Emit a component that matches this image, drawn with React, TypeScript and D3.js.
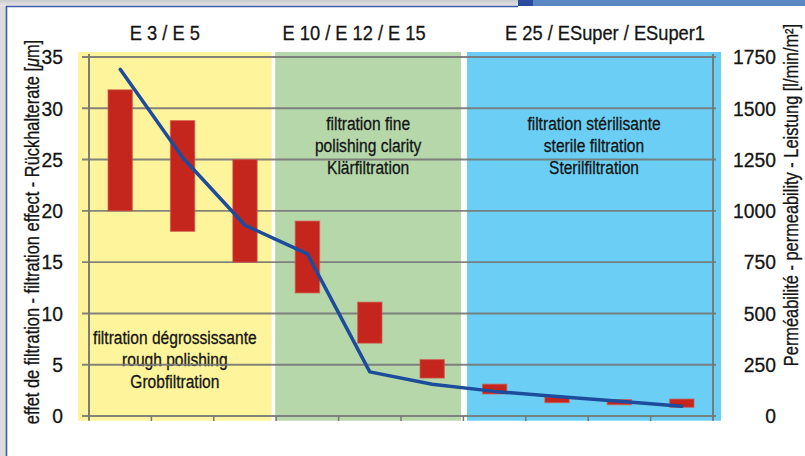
import React from "react";
import * as d3 from "d3";

// ---- data ----
const categories = ["P1", "P2", "P3", "P4", "P5", "P6", "P7", "P8", "P9", "P10"];
const retentionLow = [20, 18, 15, 12, 7.1, 3.7, 2.15, 1.3, 1.1, 0.85];
const retentionHigh = [31.8, 28.8, 25, 19, 11.1, 5.5, 3.1, 1.85, 1.6, 1.65];
const permeability = [1690, 1260, 930, 790, 215, 155, 120, 95, 72, 48];
const groupLabels = ["E 3 / E 5", "E 10 / E 12 / E 15", "E 25 / ESuper / ESuper1"];
const groupSizes = [3, 3, 4];
const groupTexts = [
  ["filtration dégrossissante", "rough polishing", "Grobfiltration"],
  ["filtration fine", "polishing clarity", "Klärfiltration"],
  ["filtration stérilisante", "sterile filtration", "Sterilfiltration"],
];
const leftTicks = [0, 5, 10, 15, 20, 25, 30, 35];
const rightTicks = [0, 250, 500, 750, 1000, 1250, 1500, 1750];
const leftTitle = "effet de filtration - filtration effect - Rückhalterate [";
const rightTitle = "Perméabilité - permeability - Leistung [l/min/m²]";

// ---- layout / style ----
const W = 805;
const H = 456;
const FONT = "'Liberation Sans', Arial, sans-serif";
const INK = "#141414";
const groupColors = ["#FEF49B", "#B5D7AA", "#6BCFF5"];
const groupPad = [
  { l: -11, r: -4.5 },
  { l: -1, r: -2.4 },
  { l: 3.6, r: 8 },
];
const groupLabelDx = [-10, -14, 11];
const groupTextY = [343.5, 130, 130];

function NText({
  x,
  y,
  size,
  anchor = "middle",
  rotate = 0,
  sx = 0.82,
  dy,
  children,
}: {
  x: number;
  y: number;
  size: number;
  anchor?: string;
  rotate?: number;
  sx?: number;
  dy?: string;
  children: React.ReactNode;
}) {
  return (
    <text
      transform={`translate(${x},${y}) rotate(${rotate}) scale(${sx},1)`}
      textAnchor={anchor}
      fontSize={size}
      dy={dy}
      fill={INK}
      stroke={INK}
      strokeWidth={0.3}
    >
      {children}
    </text>
  );
}

export default function App() {
  const x = d3.scaleBand<string>().domain(categories).range([89, 713]).padding(0);
  const yL = d3.scaleLinear().domain([0, 35]).range([416, 57]);
  const yR = d3.scaleLinear().domain([0, 1750]).range([416, 57]);
  const bw = x.bandwidth();
  const edge = (i: number) => (i >= categories.length ? x.range()[1] : (x(categories[i]) as number));

  const starts: number[] = [];
  let acc = 0;
  groupSizes.forEach((s) => {
    starts.push(acc);
    acc += s;
  });
  const regions = groupSizes.map((s, g) => {
    const x0 = edge(starts[g]) + groupPad[g].l;
    const x1 = edge(starts[g] + s) + groupPad[g].r;
    return { x0, x1, cx: (x0 + x1) / 2 };
  });

  const line = d3
    .line<number>()
    .x((_, i) => (x(categories[i]) as number) + bw / 2)
    .y((d) => yR(d));

  const top = yL(35) - 5;
  const bottom = yL(0) + 4.7;

  return (
    <svg
      width={W}
      height={H}
      style={{ position: "absolute", left: 0, top: 0, display: "block" }}
      fontFamily={FONT}
    >
      <defs>
        <linearGradient id="topg" x1="0" y1="0" x2="0" y2="1">
          <stop offset="0" stopColor="#c9cacc" />
          <stop offset="1" stopColor="#e6e6e8" />
        </linearGradient>
      </defs>
      <rect x={0} y={0} width={W} height={H} fill="#dcdcde" />
      <rect x={0} y={0} width={W} height={6} fill="url(#topg)" />
      <rect x={518} y={0} width={15} height={6} fill="#2b4c9c" />
      <rect x={533} y={0} width={W - 533} height={6} fill="#5a86c2" />
      <rect x={6} y={6} width={W - 6} height={H - 6} fill="#ffffff" />
      <line x1={6.5} y1={6} x2={6.5} y2={H} stroke="#3d5ca8" strokeWidth={1.6} />
      <line x1={6} y1={6.5} x2={518} y2={6.5} stroke="#3d5ca8" strokeWidth={1.4} />

      {regions.map((r, g) => (
        <rect key={g} x={r.x0} y={top} width={r.x1 - r.x0} height={bottom - top} fill={groupColors[g]} />
      ))}

      {groupTexts.map((lines, g) =>
        lines.map((t, k) => (
          <NText key={`${g}-${k}`} x={regions[g].cx} y={groupTextY[g] + k * 22} size={19}>
            {t}
          </NText>
        ))
      )}

      {leftTicks.map((v) => (
        <line key={v} x1={82} x2={716} y1={yL(v)} y2={yL(v)} stroke="#777777" strokeWidth={1.9} strokeOpacity={0.9} />
      ))}
      <line x1={89} x2={89} y1={top + 2} y2={bottom} stroke="#777777" strokeWidth={1.9} />
      <line x1={713} x2={713} y1={top + 2} y2={bottom} stroke="#777777" strokeWidth={1.9} />
      {d3.range(1, categories.length).map((i) => (
        <line key={i} x1={edge(i)} x2={edge(i)} y1={yL(0)} y2={yL(0) + 5} stroke="#777777" strokeWidth={1.5} />
      ))}

      {categories.map((c, i) => {
        const y0 = yL(retentionHigh[i]);
        const y1 = yL(retentionLow[i]);
        return (
          <rect
            key={c}
            x={(x(c) as number) + bw * 0.305}
            y={y0}
            width={bw * 0.39}
            height={y1 - y0}
            fill="#c4261d"
            stroke="#d2574c"
            strokeOpacity={0.6}
            strokeWidth={1.2}
          />
        );
      })}

      <path
        d={line(permeability) || ""}
        fill="none"
        stroke="#1d4c9c"
        strokeWidth={3.5}
        strokeLinejoin="round"
        strokeLinecap="round"
      />

      {groupLabels.map((t, g) => (
        <NText key={t} x={regions[g].cx + groupLabelDx[g]} y={39.5} size={21} sx={0.87}>
          {t}
        </NText>
      ))}

      {leftTicks.map((v) => (
        <NText key={v} x={63} y={yL(v)} dy="0.35em" anchor="end" size={21} sx={0.92}>
          {v}
        </NText>
      ))}
      {rightTicks.map((v) => (
        <NText key={v} x={776} y={yR(v)} dy="0.35em" anchor="end" size={21} sx={0.92}>
          {v}
        </NText>
      ))}

      <NText x={39} y={232} rotate={-90} size={20}>
        {leftTitle}
        <tspan fontStyle="italic">μ</tspan>
        {"m]"}
      </NText>
      <NText x={798} y={195} rotate={-90} size={20}>
        {rightTitle}
      </NText>
    </svg>
  );
}
